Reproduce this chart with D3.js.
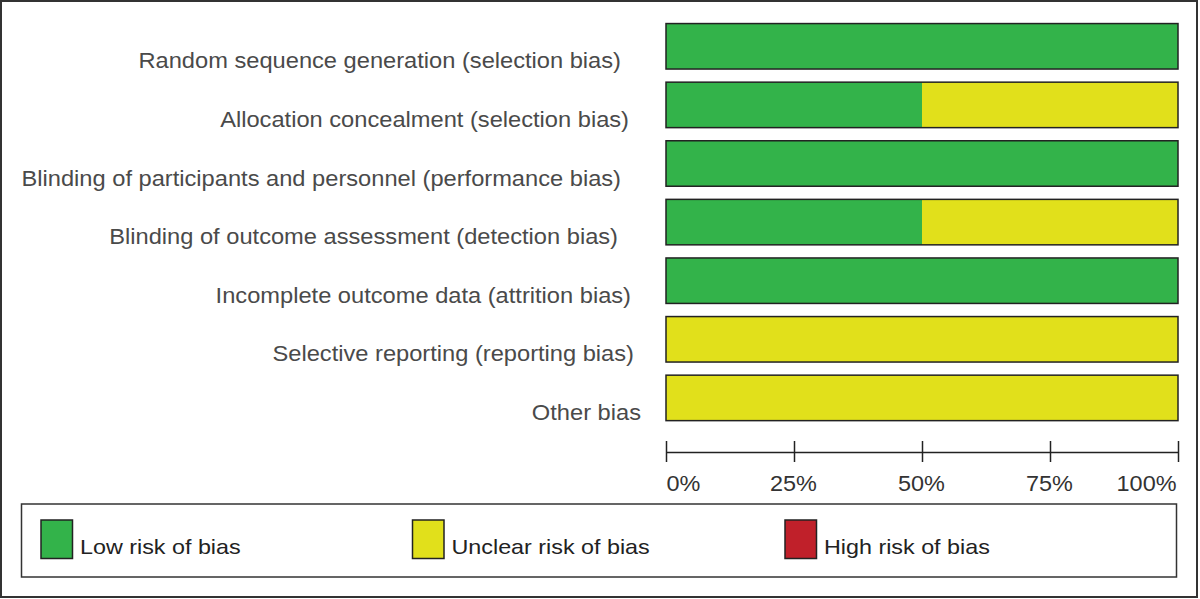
<!DOCTYPE html>
<html><head><meta charset="utf-8">
<script src="https://cdn.jsdelivr.net/npm/d3@7"></script>
<style>html,body{margin:0;padding:0;background:#fff;}svg{display:block;font-family:Arial,"Liberation Sans",sans-serif;}</style>
</head><body>
<svg id="chart" width="1200" height="599"></svg>
<script>
const categories = [
  "Random sequence generation (selection bias)",
  "Allocation concealment (selection bias)",
  "Blinding of participants and personnel (performance bias)",
  "Blinding of outcome assessment (detection bias)",
  "Incomplete outcome data (attrition bias)",
  "Selective reporting (reporting bias)",
  "Other bias"
];
const lowRisk     = [100, 50, 100, 50, 100, 0, 0];
const unclearRisk = [0, 50, 0, 50, 0, 100, 100];
const highRisk    = [0, 0, 0, 0, 0, 0, 0];
const tickValues  = [0, 25, 50, 75, 100];
const tickLabels  = ["0%", "25%", "50%", "75%", "100%"];
const legendLabels = ["Low risk of bias", "Unclear risk of bias", "High risk of bias"];

// layout / style constants
const colors = ["#33b34a", "#e1e01b", "#c0202a"];
const labelRightEdges = [621, 629, 621, 618, 631, 634, 641];
const legendX = [41, 412.5, 785];

function stretch(sel, f){
  sel.each(function(){
    const w = this.getComputedTextLength();
    d3.select(this).attr("textLength", w*f).attr("lengthAdjust","spacingAndGlyphs");
  });
}

const svg = d3.select("#chart");
svg.append("rect").attr("x",1).attr("y",1).attr("width",1196).attr("height",596)
  .attr("fill","none").attr("stroke","#333").attr("stroke-width",2);

const x = d3.scaleLinear().domain([0,100]).range([666,1178]);
const y = d3.scaleBand().domain(categories).range([17,427.2]).paddingInner(0.224).paddingOuter(0.112);

const series = [lowRisk, unclearRisk, highRisk];
const stacked = categories.map((c,i)=>{
  let acc = 0;
  return series.map((s,k)=>{ const seg = {cat:c, k, x0:acc, x1:acc+s[i]}; acc += s[i]; return seg; }).filter(d=>d.x1>d.x0);
}).flat();

svg.append("g").selectAll("rect").data(stacked).join("rect")
  .attr("x", d=>x(d.x0)).attr("y", d=>y(d.cat))
  .attr("width", d=>x(d.x1)-x(d.x0)).attr("height", y.bandwidth())
  .attr("fill", d=>colors[d.k]);
svg.append("g").selectAll("rect").data(categories).join("rect")
  .attr("x", x(0)).attr("y", d=>y(d)).attr("width", x(100)-x(0)).attr("height", y.bandwidth())
  .attr("fill","none").attr("stroke","#222").attr("stroke-width",1.5);

const labels = svg.append("g").selectAll("text").data(categories).join("text")
  .attr("x", (d,i)=>labelRightEdges[i]).attr("y", d=>y(d)+y.bandwidth()/2+22)
  .attr("text-anchor","end").attr("font-size",22).attr("fill","#4a4a4a")
  .text(d=>d);
stretch(labels, 1.075);

const axisG = svg.append("g").attr("transform","translate(0,452)");
axisG.call(d3.axisBottom(x).tickValues(tickValues).tickSize(0).tickFormat(""));
axisG.select(".domain").attr("stroke","#222").attr("stroke-width",1.5);
axisG.selectAll(".tick").append("line").attr("y1",-11).attr("y2",10).attr("stroke","#222").attr("stroke-width",1.5);
const tl = axisG.selectAll(".tick").append("text")
  .attr("y",39).attr("fill","#333").attr("font-size",21.5)
  .attr("text-anchor",(d,i)=> i===0?"start":(i===tickValues.length-1?"end":"middle"))
  .attr("dx",(d,i)=> i===tickValues.length-1? -2 : (i===0?0:-1))
  .text((d,i)=>tickLabels[i]);
stretch(tl, 1.09);

svg.append("rect").attr("x",21.5).attr("y",504).attr("width",1155).attr("height",73)
  .attr("fill","none").attr("stroke","#333").attr("stroke-width",1.5);
const lg = svg.append("g").selectAll("g").data(legendLabels).join("g")
  .attr("transform",(d,i)=>`translate(${legendX[i]},520)`);
lg.append("rect").attr("width",31.5).attr("height",38.5).attr("fill",(d,i)=>colors[i])
  .attr("stroke","#222").attr("stroke-width",1.5);
const lt = lg.append("text").attr("x",39).attr("y",33.5).attr("font-size",21).attr("fill","#222").text(d=>d);
stretch(lt, 1.11);
</script>
</body></html>
